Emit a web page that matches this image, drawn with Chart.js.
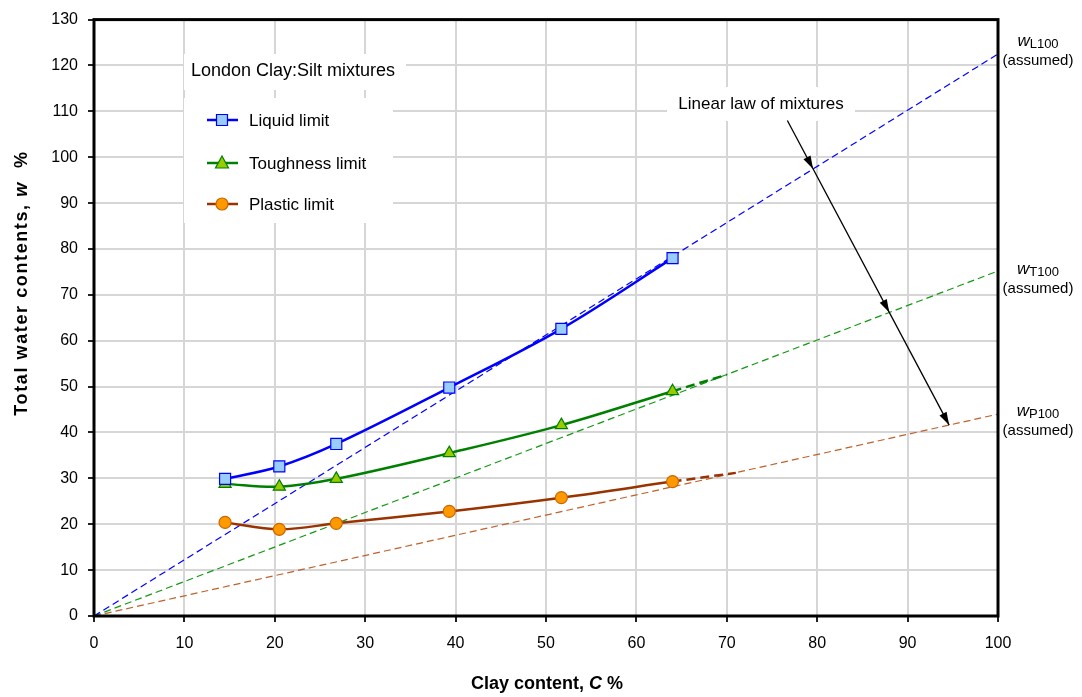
<!DOCTYPE html>
<html>
<head>
<meta charset="utf-8">
<script src="https://cdn.jsdelivr.net/npm/chart.js@4.4.1/dist/chart.umd.min.js"></script>
<style>
  html, body { margin: 0; padding: 0; background: #fff; }
</style>
</head>
<body>
<canvas id="chart" width="1082" height="697"></canvas>
<script>
// Clay content of the tested mixtures (%)
const clayContent = [14.5, 20.5, 26.8, 39.3, 51.7, 64.0];
// Measured limits (%)
const liquidLimit = [29.9, 32.6, 37.5, 49.8, 62.6, 78.0];
const toughnessLimit = [28.8, 28.2, 29.9, 35.5, 41.6, 49.0];
const plasticLimit = [20.4, 18.9, 20.2, 22.8, 25.8, 29.3];

// Linear law of mixtures: from 0 at C = 0 to the assumed w100 values at C = 100
const lawClay = [0, 100];
const lawLiquid = [0, 122.5];
const lawToughness = [0, 75.2];
const lawPlastic = [0, 44.0];

// Short extrapolations of the measured curves
const extToughClay = [64.0, 70.0];
const extTough = [49.0, 52.6];
const extPlasticClay = [64.0, 71.0];
const extPlastic = [29.3, 31.2];

// Annotation arrow (data coords): start and end on the plastic law line
const arrowStart = [76.7, 108.0];
const arrowEnd = [94.6, 41.6];
const assumedNames = ['L100', 'T100', 'P100'];
const assumedLabelY = [124.2, 74.5, 43.6];

// Axis ticks
const xTicks = [0, 10, 20, 30, 40, 50, 60, 70, 80, 90, 100];
const yTicks = [0, 10, 20, 30, 40, 50, 60, 70, 80, 90, 100, 110, 120, 130];

const FONT = 'Arial, "Liberation Sans", sans-serif';
const BLUE = '#0000ff';
const GREEN = '#008000';
const BROWN = '#993300';

function pairs(xs, ys) {
  return xs.map((x, i) => ({ x: x, y: ys[i] }));
}

function drawMarker(ctx, style, x, y) {
  ctx.save();
  ctx.lineWidth = 1.2;
  ctx.beginPath();
  if (style === 'rect') {
    ctx.fillStyle = '#99ccff';
    ctx.strokeStyle = BLUE;
    ctx.rect(x - 5.5, y - 5.5, 11, 11);
  } else if (style === 'triangle') {
    ctx.fillStyle = '#99cc00';
    ctx.strokeStyle = GREEN;
    ctx.moveTo(x, y - 7);
    ctx.lineTo(x + 6.5, y + 5);
    ctx.lineTo(x - 6.5, y + 5);
    ctx.closePath();
  } else {
    ctx.fillStyle = '#ff9900';
    ctx.strokeStyle = '#cc6600';
    ctx.arc(x, y, 6, 0, Math.PI * 2);
  }
  ctx.fill();
  ctx.stroke();
  ctx.restore();
}

function drawArrowHead(ctx, x, y, ang) {
  const len = 13, half = 4;
  ctx.beginPath();
  ctx.moveTo(x, y);
  ctx.lineTo(x - len * Math.cos(ang) + half * Math.sin(ang), y - len * Math.sin(ang) - half * Math.cos(ang));
  ctx.lineTo(x - len * Math.cos(ang) - half * Math.sin(ang), y - len * Math.sin(ang) + half * Math.cos(ang));
  ctx.closePath();
  ctx.fill();
}

// Plugin for the frame, legend boxes, annotations and axis titles
const decorPlugin = {
  id: 'decor',
  beforeDatasetsDraw(chart) {
    const ctx = chart.ctx;
    ctx.save();
    ctx.fillStyle = '#ffffff';
    ctx.fillRect(184, 54, 222, 36);
    ctx.fillRect(184, 98, 209, 125);
    ctx.fillRect(667, 87, 188, 34);
    ctx.restore();
  },
  afterDraw(chart) {
    const ctx = chart.ctx;
    const xs = chart.scales.x, ys = chart.scales.y;
    const area = chart.chartArea;
    ctx.save();

    // frame
    ctx.strokeStyle = '#000';
    ctx.lineWidth = 3;
    ctx.strokeRect(area.left, area.top, area.right - area.left, area.bottom - area.top);

    // legend title and entries
    ctx.fillStyle = '#000';
    ctx.textBaseline = 'alphabetic';
    ctx.textAlign = 'center';
    ctx.font = '18px ' + FONT;
    ctx.fillText('London Clay:Silt mixtures', 293, 76);

    const rows = [
      { label: 'Liquid limit', color: BLUE, style: 'rect', y: 120 },
      { label: 'Toughness limit', color: GREEN, style: 'triangle', y: 163 },
      { label: 'Plastic limit', color: BROWN, style: 'circle', y: 204 }
    ];
    ctx.font = '17px ' + FONT;
    ctx.textAlign = 'left';
    ctx.textBaseline = 'middle';
    rows.forEach(r => {
      ctx.strokeStyle = r.color;
      ctx.lineWidth = 2.5;
      ctx.beginPath();
      ctx.moveTo(207, r.y);
      ctx.lineTo(238, r.y);
      ctx.stroke();
      drawMarker(ctx, r.style, 222, r.y);
      ctx.fillStyle = '#000';
      ctx.fillText(r.label, 249, r.y + 1);
    });

    // "Linear law of mixtures" with arrow
    ctx.textAlign = 'center';
    ctx.textBaseline = 'alphabetic';
    ctx.font = '17px ' + FONT;
    ctx.fillText('Linear law of mixtures', 761, 109);

    const sx = xs.getPixelForValue(arrowStart[0]), sy = ys.getPixelForValue(arrowStart[1]);
    const ex = xs.getPixelForValue(arrowEnd[0]), ey = ys.getPixelForValue(arrowEnd[1]);
    ctx.strokeStyle = '#000';
    ctx.fillStyle = '#000';
    ctx.lineWidth = 1.3;
    ctx.beginPath();
    ctx.moveTo(sx, sy);
    ctx.lineTo(ex, ey);
    ctx.stroke();
    const ang = Math.atan2(ey - sy, ex - sx);
    const m = (arrowEnd[1] - arrowStart[1]) / (arrowEnd[0] - arrowStart[0]);
    [lawLiquid, lawToughness, lawPlastic].forEach(law => {
      const k = law[1] / 100;
      const xi = (arrowStart[1] - m * arrowStart[0]) / (k - m);
      drawArrowHead(ctx, xs.getPixelForValue(xi), ys.getPixelForValue(k * xi), ang);
    });

    // assumed w100 labels to the right of the plot
    const cx = 1038;
    assumedNames.forEach((sub, i) => {
      const by = ys.getPixelForValue(assumedLabelY[i]);
      ctx.font = 'italic 17px ' + FONT;
      const ww = ctx.measureText('w').width;
      ctx.font = '13px ' + FONT;
      const sw = ctx.measureText(sub).width;
      let x0 = cx - (ww + sw) / 2;
      ctx.textAlign = 'left';
      ctx.font = 'italic 17px ' + FONT;
      ctx.fillText('w', x0, by);
      ctx.font = '13px ' + FONT;
      ctx.fillText(sub, x0 + ww, by + 2);
      ctx.textAlign = 'center';
      ctx.font = '15px ' + FONT;
      ctx.fillText('(assumed)', cx, by + 19);
    });

    // axis titles with italic symbols
    function richText(parts, x, y) {
      let total = 0;
      parts.forEach(p => { ctx.font = p[1]; total += ctx.measureText(p[0]).width; });
      let cur = x - total / 2;
      ctx.textAlign = 'left';
      parts.forEach(p => {
        ctx.font = p[1];
        ctx.fillText(p[0], cur, y);
        cur += ctx.measureText(p[0]).width;
      });
    }
    ctx.textBaseline = 'alphabetic';
    richText([
      ['Clay content, ', 'bold 18px ' + FONT],
      ['C', 'bold italic 18px ' + FONT],
      [' %', 'bold 18px ' + FONT]
    ], 547, 689);

    ctx.translate(27, 283);
    ctx.rotate(-Math.PI / 2);
    if ('letterSpacing' in ctx) ctx.letterSpacing = '1.6px';
    richText([
      ['Total water contents, ', 'bold 18px ' + FONT],
      ['w', 'bold italic 18px ' + FONT],
      ['  %', 'bold 18px ' + FONT]
    ], 0, 0);
    ctx.restore();
  }
};

const lawStyle = (color) => ({
  borderColor: color,
  borderWidth: 1.2,
  borderDash: [7, 4],
  pointRadius: 0,
  fill: false,
  tension: 0,
  order: 5
});

const extStyle = (color) => ({
  borderColor: color,
  borderWidth: 2.5,
  borderDash: [9, 5],
  pointRadius: 0,
  fill: false,
  tension: 0,
  order: 4
});

new Chart(document.getElementById('chart'), {
  type: 'scatter',
  data: {
    datasets: [
      {
        label: 'Liquid limit',
        data: pairs(clayContent, liquidLimit),
        showLine: true,
        borderColor: BLUE,
        borderWidth: 2.5,
        backgroundColor: '#99ccff',
        pointStyle: 'rect',
        pointRadius: 7.8,
        pointBorderColor: BLUE,
        pointBorderWidth: 1.2,
        tension: 0.35,
        order: 1
      },
      {
        label: 'Toughness limit',
        data: pairs(clayContent, toughnessLimit),
        showLine: true,
        borderColor: GREEN,
        borderWidth: 2.5,
        backgroundColor: '#99cc00',
        pointStyle: 'triangle',
        pointRadius: 7,
        pointBorderColor: GREEN,
        pointBorderWidth: 1.2,
        tension: 0.35,
        order: 2
      },
      {
        label: 'Plastic limit',
        data: pairs(clayContent, plasticLimit),
        showLine: true,
        borderColor: BROWN,
        borderWidth: 2.5,
        backgroundColor: '#ff9900',
        pointStyle: 'circle',
        pointRadius: 6,
        pointBorderColor: '#cc6600',
        pointBorderWidth: 1.2,
        tension: 0.35,
        order: 3
      },
      Object.assign({ label: 'ext T', data: pairs(extToughClay, extTough), showLine: true }, extStyle(GREEN)),
      Object.assign({ label: 'ext P', data: pairs(extPlasticClay, extPlastic), showLine: true }, extStyle(BROWN)),
      Object.assign({ label: 'law L', data: pairs(lawClay, lawLiquid), showLine: true }, lawStyle('#0000ff')),
      Object.assign({ label: 'law T', data: pairs(lawClay, lawToughness), showLine: true }, lawStyle('#109a10')),
      Object.assign({ label: 'law P', data: pairs(lawClay, lawPlastic), showLine: true }, lawStyle('#c0602a'))
    ]
  },
  options: {
    responsive: false,
    animation: false,
    layout: { padding: { left: 0, right: 84, top: 16, bottom: 0 } },
    plugins: {
      legend: { display: false },
      tooltip: { enabled: false }
    },
    scales: {
      x: {
        type: 'linear',
        min: 0,
        max: 100,
        afterFit: (s) => { s.height = 81; },
        afterBuildTicks: (s) => { s.ticks = xTicks.map(v => ({ value: v })); },
        grid: { color: '#d6d6d6', lineWidth: 2, tickLength: 6, tickColor: '#222', drawTicks: true },
        border: { display: false },
        ticks: { color: '#000', padding: 12, font: { family: FONT, size: 16 } }
      },
      y: {
        type: 'linear',
        min: 0,
        max: 130,
        afterFit: (s) => { s.width = 94; },
        afterBuildTicks: (s) => { s.ticks = yTicks.map(v => ({ value: v })); },
        grid: { color: '#d6d6d6', lineWidth: 2, tickLength: 6, tickColor: '#222', drawTicks: true },
        border: { display: false },
        ticks: { color: '#000', padding: 10, font: { family: FONT, size: 16 } }
      }
    }
  },
  plugins: [decorPlugin]
});
</script>
</body>
</html>
